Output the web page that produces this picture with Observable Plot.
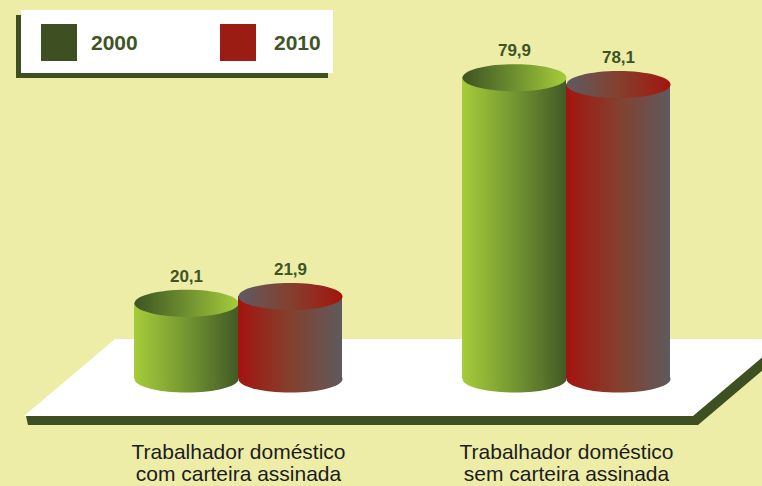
<!DOCTYPE html>
<html><head><meta charset="utf-8">
<script src="https://cdn.jsdelivr.net/npm/d3@7"></script>
<script src="https://cdn.jsdelivr.net/npm/@observablehq/plot@0.6"></script>
<style>
html,body{margin:0;padding:0;background:#EDEDA7;}
#wrap{position:relative;width:762px;height:486px;overflow:hidden;background:#EDEDA7;font-family:"Liberation Sans",Arial,sans-serif;}
#wrap svg{display:block;}
.legend-shadow{position:absolute;left:16px;top:15px;width:312px;height:63px;background:#3E5022;}
.legend{position:absolute;left:21px;top:10px;width:312px;height:63px;background:#fff;}
.item{position:absolute;top:14px;height:37px;display:flex;align-items:center;}
.sw{width:36px;height:37px;}
.lab{font-weight:bold;font-size:21px;color:#3F5527;}
</style></head><body><div id="wrap"></div>
<script>
// ---- data ----
const categories = ["Trabalhador doméstico\ncom carteira assinada", "Trabalhador doméstico\nsem carteira assinada"];
const years = ["2000", "2010"];
const values2000 = [20.1, 79.9];
const values2010 = [21.9, 78.1];
const legendColors = ["#3E5022", "#9A1C12"];

const data = categories.map((c, i) => ({category: c, v2000: values2000[i], v2010: values2010[i]}));
const fmt = v => v.toFixed(1).replace(".", ",");

// ellipse symbol (top / bottom of cylinder)
const ellipse = {
  draw(ctx, size) {
    const rx = Math.sqrt(size / Math.PI), ry = rx * 0.26, k = 0.5523;
    ctx.moveTo(rx, 0);
    ctx.bezierCurveTo(rx, ry * k, rx * k, ry, 0, ry);
    ctx.bezierCurveTo(-rx * k, ry, -rx, ry * k, -rx, 0);
    ctx.bezierCurveTo(-rx, -ry * k, -rx * k, -ry, 0, -ry);
    ctx.bezierCurveTo(rx * k, -ry, rx, -ry * k, rx, 0);
    ctx.closePath();
  }
};

function defsMark() {
  const g = d3.create("svg:g");
  const defs = g.append("defs");
  const grad = (id, stops) => {
    const lg = defs.append("linearGradient").attr("id", id).attr("x1", 0).attr("y1", 0).attr("x2", 1).attr("y2", 0);
    stops.forEach(([o, c]) => lg.append("stop").attr("offset", o).attr("stop-color", c));
  };
  grad("gBody", [[0, "#A6CC3A"], [0.5, "#749631"], [1, "#425A25"]]);
  grad("gTop", [[0, "#3E5423"], [0.5, "#6E8F30"], [1, "#A6CC3A"]]);
  grad("rBody", [[0, "#A3140F"], [0.5, "#84402E"], [1, "#5E5A5D"]]);
  grad("rTop", [[0, "#5E5A62"], [0.5, "#84402E"], [1, "#A3140F"]]);
  return g.node();
}

function floorMark(index, scales, values, dims) {
  const y0 = scales.y(0);
  const t = y0 - 39.5, b = y0 + 37.5;
  const g = d3.create("svg:g");
  g.append("path").attr("fill", "#3E5022")
    .attr("d", `M26,${b} L784,${t} L789,${t + 9} L698,${b + 9} L28,${b + 9} Z`);
  g.append("path").attr("fill", "#ffffff")
    .attr("d", `M115,${t} L784,${t} L693,${b} L24,${b} Z`);
  return g.node();
}

function cylinder(key, dx, insetOpt, body, top) {
  return [
    Plot.dot(data, {x: "category", y: () => 0, dx, r: 52, symbol: ellipse, fill: `url(#${body})`}),
    Plot.barY(data, {x: "category", y: key, ...insetOpt, fill: `url(#${body})`}),
    Plot.dot(data, {x: "category", y: key, dx, r: 52, symbol: ellipse, fill: `url(#${top})`}),
    Plot.text(data, {x: "category", y: key, dx, dy: -27, text: d => fmt(d[key]),
      fontSize: 17, fontWeight: "bold", fill: "#3F5326"})
  ];
}

const chart = Plot.plot({
  width: 762,
  height: 486,
  marginTop: 1.5,
  marginBottom: 107.5,
  marginLeft: 134,
  marginRight: 92,
  style: {background: "#EDEDA7", fontFamily: "Liberation Sans, Arial, sans-serif", overflow: "hidden"},
  x: {domain: categories, paddingInner: 0.366, paddingOuter: 0, axis: null},
  y: {domain: [0, 100], axis: null},
  marks: [
    defsMark,
    floorMark,
    ...cylinder("v2000", -52, {insetRight: 104}, "gBody", "gTop"),
    ...cylinder("v2010", 52, {insetLeft: 104}, "rBody", "rTop"),
    Plot.text(categories, {x: d => d, text: d => d, frameAnchor: "bottom", lineAnchor: "top",
      dy: 63.5, lineHeight: 1.08, fontSize: 21, fill: "#1c1c1c"})
  ]
});

const wrap = document.getElementById("wrap");
wrap.appendChild(chart);

// legend
const sh = document.createElement("div"); sh.className = "legend-shadow"; wrap.appendChild(sh);
const lg = document.createElement("div"); lg.className = "legend"; wrap.appendChild(lg);
const itemLeft = [20, 199], labGap = [14, 18];
years.forEach((y, i) => {
  const it = document.createElement("div"); it.className = "item"; it.style.left = itemLeft[i] + "px";
  const sw = document.createElement("div"); sw.className = "sw"; sw.style.background = legendColors[i];
  const lb = document.createElement("span"); lb.className = "lab"; lb.textContent = y; lb.style.marginLeft = labGap[i] + "px";
  it.appendChild(sw); it.appendChild(lb); lg.appendChild(it);
});
</script>
</body></html>
